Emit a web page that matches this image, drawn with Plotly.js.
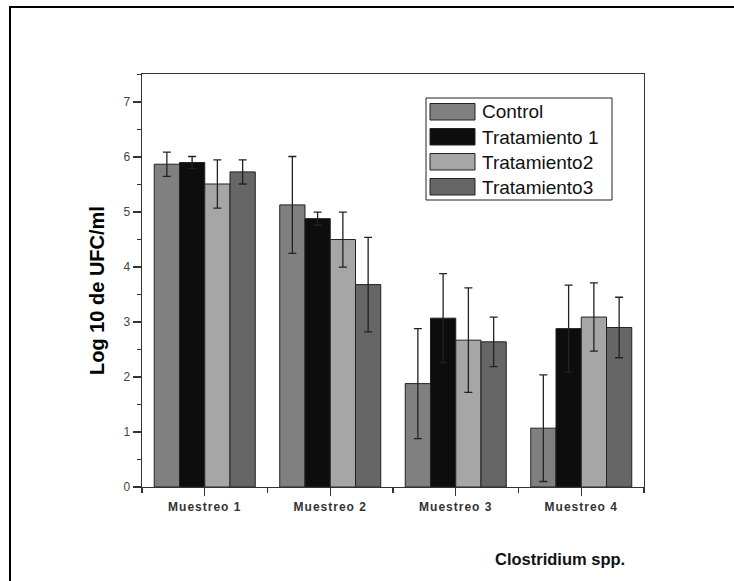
<!DOCTYPE html>
<html>
<head>
<meta charset="utf-8">
<script src="https://cdn.plot.ly/plotly-3.0.1.min.js"></script>
<style>
  html, body { margin: 0; padding: 0; background: #fff; }
  #frame { position: absolute; left: 9px; top: 6px; width: 740px; height: 600px;
           border-left: 2.5px solid #000; border-top: 2.5px solid #000; pointer-events: none; }
  #chart { position: absolute; left: 0; top: 0; width: 734px; height: 581px; }
  .xtick text { letter-spacing: 1px; }
</style>
</head>
<body>
<div id="chart"></div>
<div id="frame"></div>
<script>
// ---- data ----
const categories = ["Muestreo 1", "Muestreo 2", "Muestreo 3", "Muestreo 4"];
const seriesNames = ["Control", "Tratamiento 1", "Tratamiento2", "Tratamiento3"];
const control      = [5.87, 5.13, 1.88, 1.07];
const controlErr   = [0.22, 0.88, 1.00, 0.97];
const trat1        = [5.90, 4.88, 3.07, 2.88];
const trat1Err     = [0.11, 0.12, 0.81, 0.79];
const trat2        = [5.51, 4.50, 2.67, 3.09];
const trat2Err     = [0.44, 0.50, 0.95, 0.62];
const trat3        = [5.73, 3.68, 2.64, 2.90];
const trat3Err     = [0.22, 0.86, 0.45, 0.55];
const yTitle = "Log 10 de UFC/ml";
const xTitle = "Clostridium spp.";

// ---- styles ----
const colors = ["#808080", "#0d0d0d", "#a6a6a6", "#666666"];
const values = [control, trat1, trat2, trat3];
const errors = [controlErr, trat1Err, trat2Err, trat3Err];
const xIdx = categories.map((c, i) => i);

const W = 734, H = 581;
const M = { l: 142, r: 90, t: 74, b: 94 };
const pw = W - M.l - M.r, ph = H - M.t - M.b;
const px = v => (v - M.l) / pw;           // pixel -> paper x
const py = v => (H - M.b - v) / ph;       // pixel -> paper y

const traces = seriesNames.map((name, k) => ({
  type: "bar",
  name: name,
  x: xIdx,
  y: values[k],
  marker: { color: colors[k], line: { color: "#222", width: 1 } },
  error_y: { type: "data", array: errors[k], visible: true, color: "#222", thickness: 1.3, width: 4 },
  showlegend: false,
  hoverinfo: "skip"
}));

// custom legend (large swatches like the original)
const shapes = [];
const annotations = [];
const lg = { x0: 426, x1: 612, y0: 98, y1: 200 };
shapes.push({ type: "rect", xref: "paper", yref: "paper",
  x0: px(lg.x0), x1: px(lg.x1), y0: py(lg.y1), y1: py(lg.y0),
  line: { color: "#222", width: 1 }, fillcolor: "rgba(0,0,0,0)" });
seriesNames.forEach((name, k) => {
  const top = 103.5 + k * 25;
  shapes.push({ type: "rect", xref: "paper", yref: "paper",
    x0: px(430), x1: px(475), y0: py(top + 16.5), y1: py(top),
    line: { color: "#222", width: 1 }, fillcolor: colors[k] });
  annotations.push({ xref: "paper", yref: "paper", x: px(480), y: py(top + 8.5),
    xanchor: "left", yanchor: "middle", showarrow: false, text: name,
    font: { family: "Liberation Sans, Arial, sans-serif", size: 19, color: "#111" } });
});

annotations.push({ xref: "paper", yref: "paper", x: px(97), y: py(291),
  xanchor: "center", yanchor: "middle", textangle: -90, showarrow: false, text: yTitle,
  font: { family: "Liberation Sans, Arial, sans-serif", size: 20, color: "#000", weight: "bold" } });
annotations.push({ xref: "paper", yref: "paper", x: px(559.5), y: py(559),
  xanchor: "center", yanchor: "middle", showarrow: false, text: xTitle,
  font: { family: "Liberation Sans, Arial, sans-serif", size: 16.5, color: "#111", weight: "bold" } });

const layout = {
  width: W, height: H,
  margin: M,
  paper_bgcolor: "rgba(0,0,0,0)",
  plot_bgcolor: "#fff",
  barmode: "group",
  bargap: 0.195,
  bargroupgap: 0,
  showlegend: false,
  xaxis: {
    range: [-0.5, 3.5],
    tickmode: "array", tickvals: xIdx, ticktext: categories,
    ticks: "outside", ticklen: 8, tickwidth: 1.2, tickcolor: "#333",
    minor: { tickmode: "array", tickvals: [-0.5, 0.5, 1.5, 2.5, 3.5], ticks: "outside", ticklen: 5, tickwidth: 1.2, tickcolor: "#333" },
    showline: true, linecolor: "#333", linewidth: 1.3, mirror: true,
    showgrid: false, zeroline: false,
    tickfont: { family: "Liberation Sans, Arial, sans-serif", size: 12, color: "#333", weight: "bold" }
  },
  yaxis: {
    range: [0, 7.51],
    tickmode: "linear", tick0: 0, dtick: 1,
    ticks: "outside", ticklen: 8, tickwidth: 1.2, tickcolor: "#333",
    minor: { tick0: 0.5, dtick: 1, ticks: "outside", ticklen: 4, tickwidth: 1.2, tickcolor: "#333" },
    showline: true, linecolor: "#333", linewidth: 1.3, mirror: true,
    showgrid: false, zeroline: false,
    tickfont: { family: "Liberation Sans, Arial, sans-serif", size: 12, color: "#444" }
  },
  shapes: shapes,
  annotations: annotations
};

Plotly.newPlot("chart", traces, layout, { staticPlot: true, displayModeBar: false });
</script>
</body>
</html>
